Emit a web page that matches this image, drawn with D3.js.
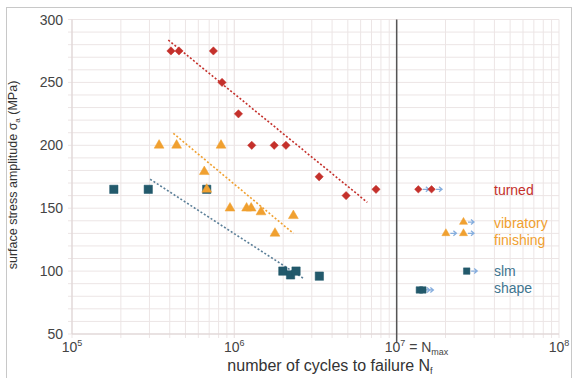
<!DOCTYPE html>
<html>
<head>
<meta charset="utf-8">
<script src="https://cdn.jsdelivr.net/npm/d3@7"></script>
<style>
  body { margin: 0; background: #fff; }
  text { font-family: "Liberation Sans", Arial, sans-serif; }
</style>
</head>
<body>
<div id="chart"></div>
<script>
// failures (N, stress)
const turned = [[4.07e5, 275], [4.56e5, 275], [7.43e5, 275], [8.4e5, 250], [1.06e6, 225],
  [1.28e6, 200], [1.76e6, 200], [2.08e6, 200], [3.33e6, 175], [4.88e6, 160], [7.46e6, 165]];
const vibratory = [[3.44e5, 200], [4.41e5, 200], [8.28e5, 200], [6.53e5, 179], [6.76e5, 165],
  [9.4e5, 150], [1.19e6, 150], [1.27e6, 150], [1.46e6, 147], [2.31e6, 144], [1.78e6, 130]];
const slm = [[1.81e5, 165], [2.95e5, 165], [6.76e5, 165], [1.99e6, 100], [2.22e6, 97],
  [2.4e6, 100], [3.34e6, 96]];
// run-outs
const turnedRunout = [[1.36e7, 165], [1.64e7, 165]];
const vibratoryRunout = [[2.58e7, 139], [2.01e7, 130], [2.58e7, 130]];
const slmRunout = [[2.7e7, 100], [1.38e7, 85], [1.45e7, 85]];
// trend lines
const turnedTrend = [[3.92e5, 283.7], [6.59e6, 154.7]];
const vibratoryTrend = [[4.21e5, 209.5], [2.31e6, 130]];
const slmTrend = [[3.03e5, 173], [2.66e6, 94.3]];

const yTicks = [50, 100, 150, 200, 250, 300];
const xTicks = [1e5, 1e6, 1e7, 1e8];
const nMax = 1e7;

document.addEventListener("DOMContentLoaded", () => {
  const width = 577;
  const height = 378;

  const red = "#c4302b";
  const orange = "#f0a030";
  const teal = "#22596b";
  const arrowCol = "#86aede";
  const gridCol = "#ece5e5";

  const x = d3.scaleLog().domain([1e5, 1e8]).range([72, 559]);
  const y = d3.scaleLinear().domain([50, 300]).range([334, 19.5]);

  const svg = d3.select("#chart").append("svg")
    .attr("width", width).attr("height", height);

  // frame
  svg.append("rect")
    .attr("x", 6.5).attr("y", 7.5).attr("width", 565).attr("height", 380)
    .attr("fill", "#fff").attr("stroke", "#c8c8c8");

  // grid
  const minorX = [];
  [1e5, 1e6, 1e7].forEach((d) => { for (let k = 1; k <= 10; k++) minorX.push(d * k); });
  const minorY = d3.range(50, 301, 10);

  svg.append("g").selectAll("line").data(minorY).join("line")
    .attr("x1", x(1e5) - 4).attr("x2", x(1e8))
    .attr("y1", (d) => y(d)).attr("y2", (d) => y(d))
    .attr("stroke", gridCol).attr("stroke-width", 1);

  svg.append("g").selectAll("line").data(minorX).join("line")
    .attr("x1", (d) => x(d)).attr("x2", (d) => x(d))
    .attr("y1", y(300)).attr("y2", y(50) + 4)
    .attr("stroke", gridCol).attr("stroke-width", 1);

  // axes lines
  svg.append("line").attr("x1", x(1e5)).attr("x2", x(1e5))
    .attr("y1", y(300)).attr("y2", y(50)).attr("stroke", "#ddd2d2");
  svg.append("line").attr("x1", x(1e5)).attr("x2", x(1e8))
    .attr("y1", y(50)).attr("y2", y(50)).attr("stroke", "#ddd2d2");

  // N_max line
  svg.append("line")
    .attr("x1", x(nMax)).attr("x2", x(nMax))
    .attr("y1", y(300)).attr("y2", y(50) + 8)
    .attr("stroke", "#555").attr("stroke-width", 1.5);

  // y tick labels
  svg.append("g").selectAll("text").data(yTicks).join("text")
    .attr("x", 63).attr("y", (d) => y(d) + 5)
    .attr("text-anchor", "end")
    .attr("font-size", 14).attr("fill", "#444")
    .text((d) => d);

  // x tick labels
  const xl = svg.append("g").selectAll("text").data(xTicks).join("text")
    .attr("x", (d) => (d === nMax ? x(d) - 12 : x(d)))
    .attr("y", 352)
    .attr("text-anchor", (d) => (d === nMax ? "start" : "middle"))
    .attr("font-size", 14).attr("fill", "#444");
  xl.append("tspan").text("10");
  xl.append("tspan").attr("font-size", 9).attr("dy", -6)
    .text((d) => Math.round(Math.log10(d)));
  xl.filter((d) => d === nMax).append("tspan").attr("dy", 6).text(" = N");
  xl.filter((d) => d === nMax).append("tspan").attr("font-size", 9).attr("dy", 3).text("max");

  // axis titles
  const xt = svg.append("text").attr("x", 330).attr("y", 371)
    .attr("text-anchor", "middle").attr("font-size", 16).attr("fill", "#333");
  xt.append("tspan").text("number of cycles to failure N");
  xt.append("tspan").attr("font-size", 9).attr("dy", 3).text("f");

  const yt = svg.append("text")
    .attr("transform", "translate(17,175) rotate(-90)")
    .attr("text-anchor", "middle").attr("font-size", 12.5).attr("fill", "#333");
  yt.append("tspan").text("surface stress amplitude σ");
  yt.append("tspan").attr("font-size", 8).attr("dy", 3).text("a");
  yt.append("tspan").attr("dy", -3).text(" (MPa)");

  // trend lines
  const line = d3.line().x((d) => x(d[0])).y((d) => y(d[1]));
  [[turnedTrend, red], [vibratoryTrend, orange], [slmTrend, "#5b7f98"]].forEach(([t, c]) => {
    svg.append("path").attr("d", line(t))
      .attr("fill", "none").attr("stroke", c).attr("stroke-width", 1.6)
      .attr("stroke-dasharray", "2,2");
  });

  // markers
  const diamond = d3.symbol().type(d3.symbolDiamond2);
  const tri = d3.symbol().type(d3.symbolTriangle);
  const sq = d3.symbol().type(d3.symbolSquare);

  const drawSeries = (data, sym, size, color, runout) => {
    const g = svg.append("g").selectAll("g").data(data).join("g")
      .attr("transform", (d) => `translate(${x(d[0])},${y(d[1])})`);
    g.append("path").attr("d", sym.size(size)())
      .attr("fill", color).attr("stroke", color).attr("stroke-width", 0.5);
    if (runout) {
      g.append("path").attr("d", "M4.5,0 H10.5 M7.5,-2.5 L10.5,0 L7.5,2.5")
        .attr("fill", "none").attr("stroke", arrowCol).attr("stroke-width", 1.3);
    }
  };

  drawSeries(slm, sq, 70, teal, false);
  drawSeries(turned, diamond, 44, red, false);
  drawSeries(vibratory, tri, 42, orange, false);
  drawSeries(turnedRunout, diamond, 36, red, true);
  drawSeries(vibratoryRunout, tri, 28, orange, true);
  drawSeries(slmRunout, sq, 42, teal, true);

  // legend labels
  const legend = [
    ["turned", red, 494, 195],
    ["vibratory", orange, 494, 228],
    ["finishing", orange, 494, 245],
    ["slm", "#3f7590", 494, 276],
    ["shape", "#3f7590", 494, 293]
  ];
  svg.append("g").selectAll("text").data(legend).join("text")
    .attr("x", (d) => d[2]).attr("y", (d) => d[3])
    .attr("font-size", 14).attr("fill", (d) => d[1])
    .text((d) => d[0]);
});
</script>
</body>
</html>
